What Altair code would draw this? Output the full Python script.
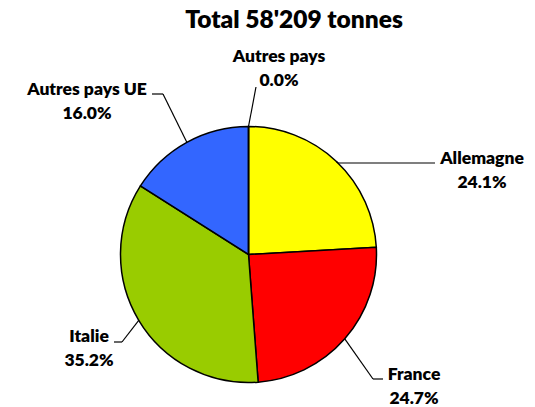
import altair as alt
import pandas as pd

# ---- data ----
categories = ["Allemagne", "France", "Italie", "Autres pays UE", "Autres pays"]
shares = [24.1, 24.7, 35.2, 16.0, 0.0]
title_text = "Total 58'209 tonnes"

# ---- styles / layout ----
colors = ["#FFFF00", "#FF0000", "#99CC00", "#3366FF", "#7F7F7F"]
M = 8  # page margin
CX, CY, R = 248.5 - M, 254.5 - M, 128
# leader line elbow / end and label anchor (page coordinates)
elbow_x = [338, 373, 122, 163, 256]
elbow_y = [163, 379, 342, 94, 87]
end_x = [435, 383, 114, 152, 256]
label_x = [482, 414, 89, 87, 279]
label_y = [164, 380, 342, 95, 62]   # baseline of the name line
LINE_GAP = 23.5
FONT = "Lato"
FS = 17.5
WEIGHT = 800

df = pd.DataFrame({
    "cat": categories,
    "share": shares,
    "idx": list(range(len(categories))),
    "ex": [v - M for v in elbow_x],
    "ey": [v - M for v in elbow_y],
    "endx": [v - M for v in end_x],
    "lx": [v - M for v in label_x],
    "ly": [v - M for v in label_y],
})

base = alt.Chart(df)

pie = base.mark_arc(radius=R, stroke="black", strokeWidth=1.5).encode(
    theta=alt.Theta("share:Q", stack=True),
    order=alt.Order("idx:Q"),
    color=alt.Color("cat:N", scale=alt.Scale(domain=categories, range=colors), legend=None),
    x=alt.value(CX),
    y=alt.value(CY),
)

geo = base.transform_joinaggregate(total="sum(share)").transform_window(
    cum="sum(share)", frame=[None, 0], sort=[alt.SortField("idx")]
).transform_calculate(
    mid="(datum.cum - datum.share/2) / datum.total * 2 * PI",
    px=f"{CX} + {R} * sin(datum.mid)",
    py=f"{CY} - {R} * cos(datum.mid)",
)

seg1 = geo.mark_rule(color="black", strokeWidth=1.2).encode(
    x=alt.X("px:Q", scale=None),
    y=alt.Y("py:Q", scale=None),
    x2="ex:Q",
    y2="ey:Q",
)
seg2 = geo.mark_rule(color="black", strokeWidth=1.2).encode(
    x=alt.X("ex:Q", scale=None),
    y=alt.Y("ey:Q", scale=None),
    x2="endx:Q",
    y2="ey:Q",
)

names = base.mark_text(font=FONT, fontWeight=WEIGHT, fontSize=FS, color="black",
                       align="center", baseline="alphabetic").encode(
    x=alt.X("lx:Q", scale=None),
    y=alt.Y("ly:Q", scale=None),
    text="cat:N",
)
pcts = base.transform_calculate(
    pct="format(datum.share, '.1f') + '%'", ly2=f"datum.ly + {LINE_GAP}"
).mark_text(font=FONT, fontWeight=WEIGHT, fontSize=FS, color="black",
            align="center", baseline="alphabetic").encode(
    x=alt.X("lx:Q", scale=None),
    y=alt.Y("ly2:Q", scale=None),
    text="pct:N",
)

title = alt.Chart(pd.DataFrame({"t": [title_text]})).mark_text(
    font=FONT, fontWeight=WEIGHT, fontSize=24.5, color="black",
    align="center", baseline="alphabetic"
).encode(x=alt.value(294 - M), y=alt.value(28 - M), text="t:N")

chart = alt.layer(pie, seg1, seg2, names, pcts, title).properties(
    width=535 - 2 * M, height=407 - M, padding=0,
    autosize=alt.AutoSizeParams(type="none"),
).configure_view(stroke=None)

chart.save("out.html", embed_options={"renderer": "svg", "actions": False})
